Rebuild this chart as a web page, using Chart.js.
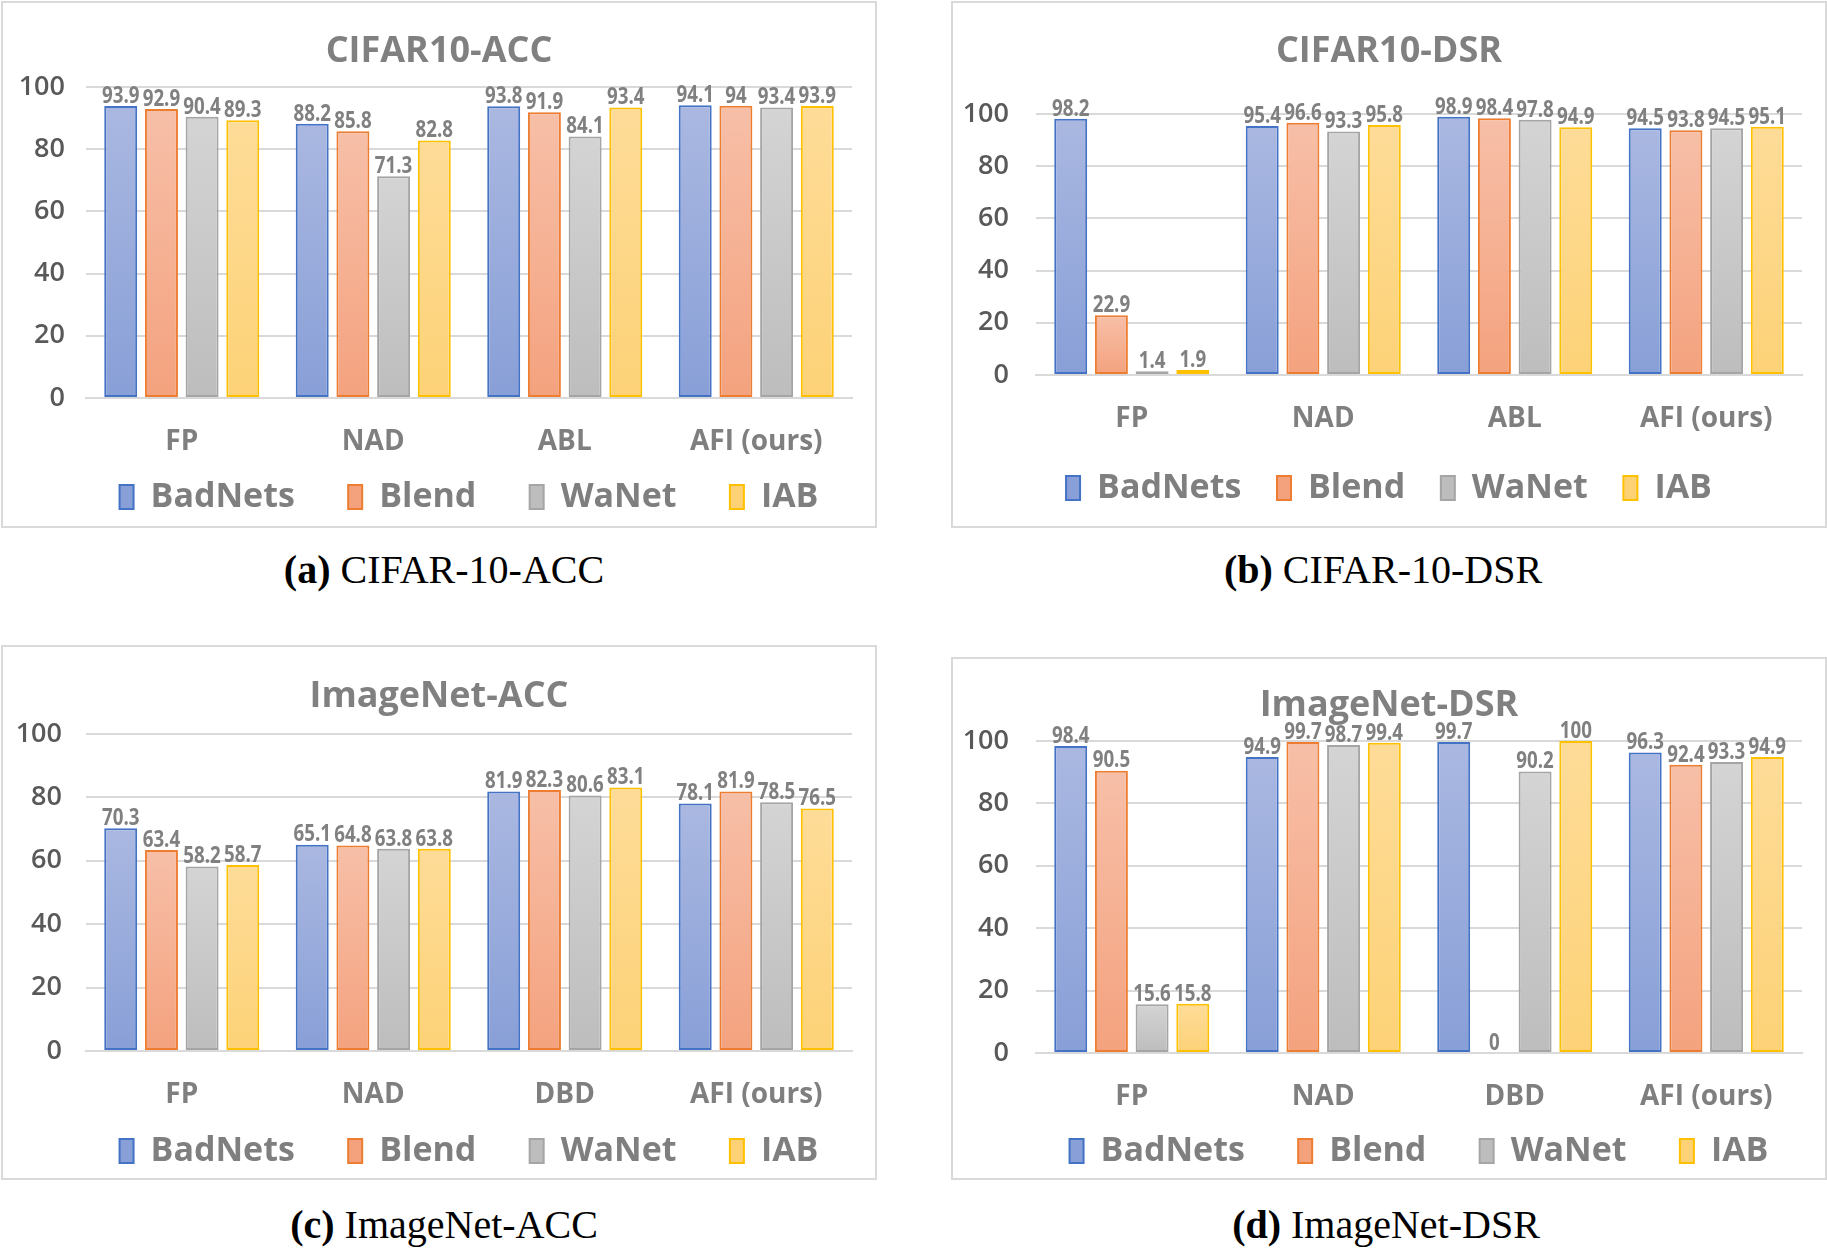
<!DOCTYPE html>
<html>
<head>
<meta charset="utf-8">
<script src="https://cdn.jsdelivr.net/npm/chart.js@4.4.1/dist/chart.umd.min.js"></script>
<style>
  body { margin: 0; background: #fff; }
  #page { position: relative; width: 1827px; height: 1251px; overflow: hidden; }
  .box { position: absolute; border: 2px solid #d9d9d9; box-sizing: border-box; }
  .box canvas { display: block; }
  .cap { position: absolute; width: 600px; text-align: center; font-family: "Liberation Serif", serif; font-size: 40px; color: #000; }
  .cap b { font-weight: bold; }
</style>
</head>
<body>
<div id="page">
  <div class="box" style="left:1px;top:1px;width:876px;height:527px"><canvas id="chartA" width="872" height="523"></canvas></div>
  <div class="box" style="left:951px;top:1px;width:876px;height:527px"><canvas id="chartB" width="872" height="523"></canvas></div>
  <div class="box" style="left:1px;top:645px;width:876px;height:535px"><canvas id="chartC" width="872" height="531"></canvas></div>
  <div class="box" style="left:951px;top:657px;width:876px;height:523px"><canvas id="chartD" width="872" height="519"></canvas></div>
  <div class="cap" style="left:144px;top:546px"><b>(a)</b> CIFAR-10-ACC</div>
  <div class="cap" style="left:1083px;top:546px"><b>(b)</b> CIFAR-10-DSR</div>
  <div class="cap" style="left:144px;top:1201px"><b>(c)</b> ImageNet-ACC</div>
  <div class="cap" style="left:1086px;top:1201px"><b>(d)</b> ImageNet-DSR</div>
</div>
<script>
// series and categories
const seriesNames = ['BadNets', 'Blend', 'WaNet', 'IAB'];
const cifarCats = ['FP', 'NAD', 'ABL', 'AFI (ours)'];
const imagenetCats = ['FP', 'NAD', 'DBD', 'AFI (ours)'];
const yTicks = [0, 20, 40, 60, 80, 100];

// CIFAR10-ACC
const cifarAccBadNets = [93.9, 88.2, 93.8, 94.1];
const cifarAccBlend = [92.9, 85.8, 91.9, 94];
const cifarAccWaNet = [90.4, 71.3, 84.1, 93.4];
const cifarAccIAB = [89.3, 82.8, 93.4, 93.9];

// CIFAR10-DSR
const cifarDsrBadNets = [98.2, 95.4, 98.9, 94.5];
const cifarDsrBlend = [22.9, 96.6, 98.4, 93.8];
const cifarDsrWaNet = [1.4, 93.3, 97.8, 94.5];
const cifarDsrIAB = [1.9, 95.8, 94.9, 95.1];

// ImageNet-ACC
const imagenetAccBadNets = [70.3, 65.1, 81.9, 78.1];
const imagenetAccBlend = [63.4, 64.8, 82.3, 81.9];
const imagenetAccWaNet = [58.2, 63.8, 80.6, 78.5];
const imagenetAccIAB = [58.7, 63.8, 83.1, 76.5];

// ImageNet-DSR
const imagenetDsrBadNets = [98.4, 94.9, 99.7, 96.3];
const imagenetDsrBlend = [90.5, 99.7, 0, 92.4];
const imagenetDsrWaNet = [15.6, 98.7, 90.2, 93.3];
const imagenetDsrIAB = [15.8, 99.4, 100, 94.9];

// office-style colours
const lineColors = ['#4472c4', '#ed7d31', '#a5a5a5', '#ffc000'];
const topColors = ['#aab8e1', '#f7bfa8', '#d4d4d4', '#fedc98'];
const bottomColors = ['#889fd7', '#f4a27e', '#bdbdbd', '#fdd277'];
const flatColors = ['#9aace0', '#f6b293', '#c9c9c9', '#fed88a'];

const FONT = '"Open Sans", "Noto Sans", sans-serif';

// gradient per bar, from its top to the axis
function barFill(i) {
    return function (ctx) {
        if (ctx.type !== 'data') return flatColors[i];
        const chart = ctx.chart;
        const ys = chart.scales.y;
        if (!chart.chartArea || !ys) return flatColors[i];
        const top = ys.getPixelForValue(ctx.raw);
        const bottom = ys.getPixelForValue(0);
        if (bottom - top < 2) return topColors[i];
        const g = chart.ctx.createLinearGradient(0, top, 0, bottom);
        g.addColorStop(0, topColors[i]);
        g.addColorStop(1, bottomColors[i]);
        return g;
    };
}

// value labels above each bar (squeezed a little, like the original's narrow font)
const valueLabels = {
    id: 'valueLabels',
    afterDatasetsDraw(chart) {
        const c = chart.ctx;
        c.save();
        c.font = 'bold 24px ' + FONT;
        c.fillStyle = '#808080';
        c.textAlign = 'center';
        c.textBaseline = 'bottom';
        chart.data.datasets.forEach(function (ds, di) {
            chart.getDatasetMeta(di).data.forEach(function (bar, i) {
                const txt = String(ds.data[i]);
                const w = c.measureText(txt).width * 0.78;
                c.fillText(txt, bar.x, bar.y + 2, w);
            });
        });
        c.restore();
    }
};

function drawPanel(id, title, cats, series, lay) {
    const datasets = series.map(function (data, i) {
        return {
            label: seriesNames[i],
            data: data,
            backgroundColor: barFill(i),
            borderColor: lineColors[i],
            borderWidth: 2,
            borderSkipped: false,
            barPercentage: 0.81,
            categoryPercentage: 0.85
        };
    });
    new Chart(document.getElementById(id), {
        type: 'bar',
        data: { labels: cats, datasets: datasets },
        plugins: [valueLabels],
        options: {
            responsive: false,
            animation: false,
            devicePixelRatio: 1,
            layout: { padding: { left: 10, right: 10, top: 0, bottom: lay.padBottom } },
            scales: {
                x: {
                    grid: { display: false },
                    border: { color: '#d9d9d9', width: 2 },
                    ticks: { color: '#7f7f7f', font: { family: FONT, size: 28, weight: 'bold' }, padding: lay.xPad },
                    afterFit: function (s) { s.height = lay.xHeight; }
                },
                y: {
                    min: 0,
                    max: 100,
                    afterBuildTicks: function (s) { s.ticks = yTicks.map(function (v) { return { value: v }; }); },
                    grid: { color: '#d9d9d9', lineWidth: 2, drawTicks: false },
                    border: { display: false },
                    ticks: { color: '#595959', font: { family: FONT, size: 27, weight: '600' }, padding: lay.yPad },
                    afterFit: function (s) { s.width = 73; }
                },
                // empty right-hand spacer so the plot ends where the original does
                spacer: {
                    type: 'linear',
                    position: 'right',
                    grid: { display: false },
                    border: { display: false },
                    ticks: { display: false },
                    afterFit: function (s) { s.width = 13; }
                }
            },
            plugins: {
                title: {
                    display: true,
                    text: title,
                    color: '#808080',
                    font: { family: FONT, size: 36, weight: 'bold' },
                    padding: { top: lay.titleTop, bottom: lay.titleBottom }
                },
                legend: {
                    position: 'bottom',
                    fullSize: lay.legendFull,
                    labels: {
                        color: '#7f7f7f',
                        font: { family: FONT, size: 34, weight: 'bold' },
                        boxWidth: 14,
                        boxHeight: 24,
                        padding: 18,
                        // trailing spaces widen the gap between items
                        generateLabels: function (chart) {
                            const items = Chart.defaults.plugins.legend.labels.generateLabels(chart);
                            items.forEach(function (it, k) {
                                if (k < items.length - 1) it.text = it.text + lay.gap;
                            });
                            return items;
                        }
                    }
                },
                tooltip: { enabled: false }
            }
        }
    });
}

drawPanel('chartA', 'CIFAR10-ACC', cifarCats,
    [cifarAccBadNets, cifarAccBlend, cifarAccWaNet, cifarAccIAB],
    { titleTop: 27.4, titleBottom: 13.4, xPad: 19, xHeight: 64, padBottom: 2, yPad: 21, gap: '    ', legendFull: false });

drawPanel('chartB', 'CIFAR10-DSR', cifarCats,
    [cifarDsrBadNets, cifarDsrBlend, cifarDsrWaNet, cifarDsrIAB],
    { titleTop: 27.4, titleBottom: 40.4, xPad: 19, xHeight: 78, padBottom: 11, yPad: 27, gap: '  ', legendFull: true });

drawPanel('chartC', 'ImageNet-ACC', imagenetCats,
    [imagenetAccBadNets, imagenetAccBlend, imagenetAccWaNet, imagenetAccIAB],
    { titleTop: 28.4, titleBottom: 15.4, xPad: 19, xHeight: 65, padBottom: 0, yPad: 24, gap: '    ', legendFull: false });

drawPanel('chartD', 'ImageNet-DSR', imagenetCats,
    [imagenetDsrBadNets, imagenetDsrBlend, imagenetDsrWaNet, imagenetDsrIAB],
    { titleTop: 25.4, titleBottom: 13.4, xPad: 19, xHeight: 63, padBottom: 0, yPad: 27, gap: '    ', legendFull: false });
</script>
</body>
</html>
